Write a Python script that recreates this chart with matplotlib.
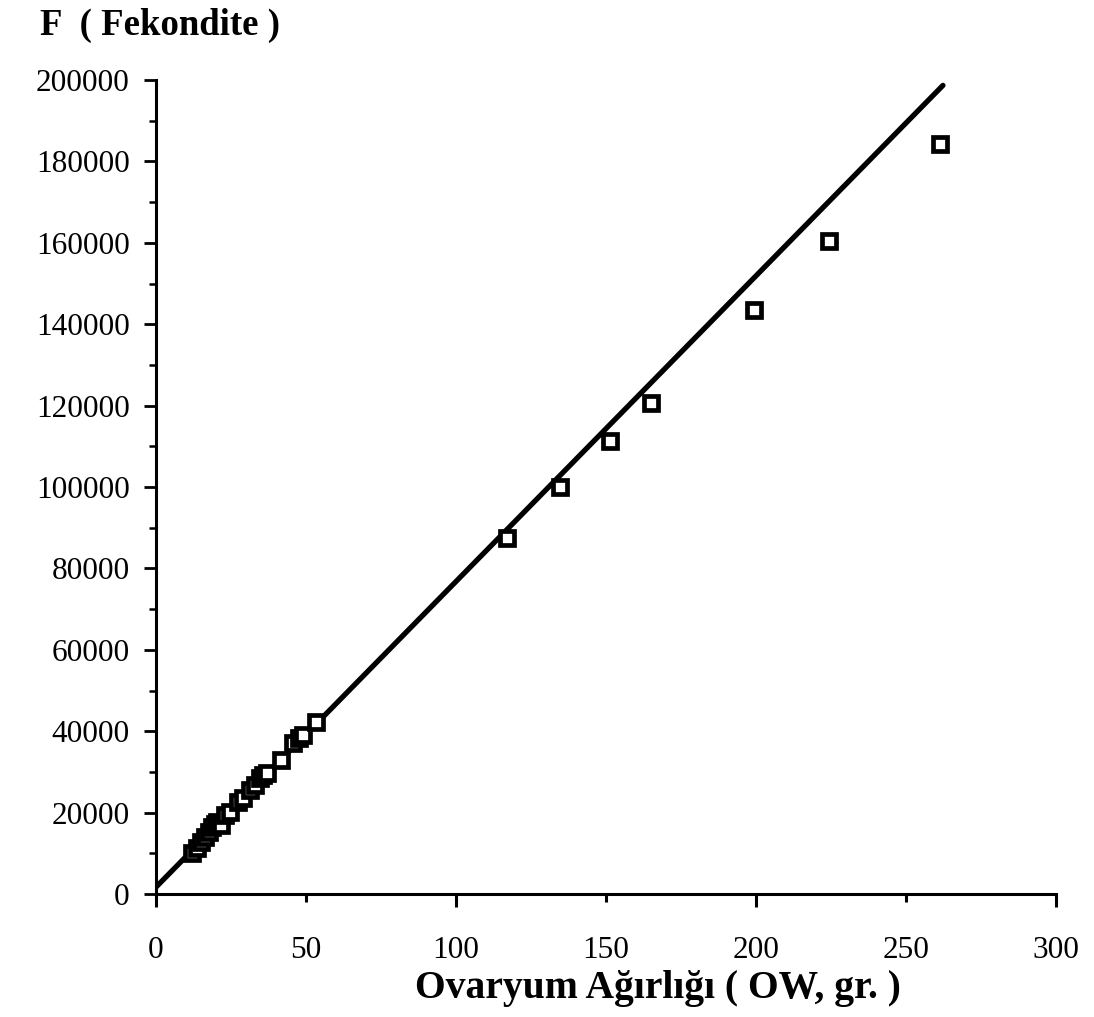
import matplotlib
matplotlib.use('Agg')
import matplotlib.pyplot as plt
from matplotlib.ticker import MultipleLocator
import numpy as np

# ovary weight (g) and fecundity
ow = [11.9, 13.5, 15.0, 16.3, 17.5, 18.5, 19.5, 20.2, 21.5, 23.0, 24.5,
      27.4, 29.0, 31.3, 33.0, 34.7, 35.8, 36.9, 41.8, 45.8, 47.7, 49.0,
      53.2, 116.9, 134.7, 151.3, 165.0, 199.2, 224.4, 261.3]
fecundity = [9980, 11200, 12800, 14080, 15300, 16500, 17300, 17740, 17000,
             19400, 20200, 22650, 23500, 25550, 26800, 28400, 29200, 29640,
             32900, 37000, 38250, 39000, 42300, 87540, 100080, 111300,
             120710, 143490, 160442, 184275]

# fitted regression line F = a + b * OW
fit_a = 1700
fit_b = 751
fit_x = [0, 262.3]

xticks = [0, 50, 100, 150, 200, 250, 300]
yticks = [0, 20000, 40000, 60000, 80000, 100000, 120000, 140000,
          160000, 180000, 200000]

serif = ['Liberation Serif', 'DejaVu Serif']

fig = plt.figure(figsize=(10.94, 10.17), dpi=100)
ax = fig.add_axes([0.1426, 0.1209, 0.9653 - 0.1426, 0.9213 - 0.1209])

fx = np.array(fit_x)
ax.plot(fx, fit_a + fit_b * fx, color='black', lw=3.8, solid_capstyle='round',
        zorder=2)
ax.plot(ow, fecundity, ls='none', marker='s', ms=10, mfc='white',
        mec='black', mew=3.4, zorder=3)

ax.set_xlim(0, 300)
ax.set_ylim(0, 200000)

for s in ['top', 'right']:
    ax.spines[s].set_visible(False)
for s in ['left', 'bottom']:
    ax.spines[s].set_linewidth(2.2)

# x: long ticks every 100, short ticks at the 50s, all labelled
ax.set_xticks(xticks[::2])
ax.set_xticklabels([str(v) for v in xticks[::2]])
ax.set_xticks(xticks[1::2], minor=True)
ax.set_xticklabels([str(v) for v in xticks[1::2]], minor=True)
ax.tick_params(axis='x', which='major', length=9, width=2.2, direction='out',
               pad=21)
ax.tick_params(axis='x', which='minor', length=6, width=2.2, direction='out',
               pad=24)

ax.set_yticks(yticks)
ax.set_yticklabels([str(v) for v in yticks])
ax.yaxis.set_minor_locator(MultipleLocator(10000))
ax.tick_params(axis='y', which='major', length=9, width=2.0, direction='out',
               pad=10)
ax.tick_params(axis='y', which='minor', length=5, width=1.8, direction='out')

for lab in ax.get_xticklabels(which='both') + ax.get_yticklabels():
    lab.set_fontfamily(serif)
    lab.set_fontsize(22.5)

fig.text(0.037, 0.975, 'F  ( Fekondite )', family=serif, weight='bold',
         fontsize=26.5, ha='left', va='center')
fig.text(0.601, 0.028, 'Ovaryum Ağırlığı ( OW, gr. )', family=serif,
         weight='bold', fontsize=28.5, ha='center', va='center')

fig.savefig('out.png', dpi=100)
